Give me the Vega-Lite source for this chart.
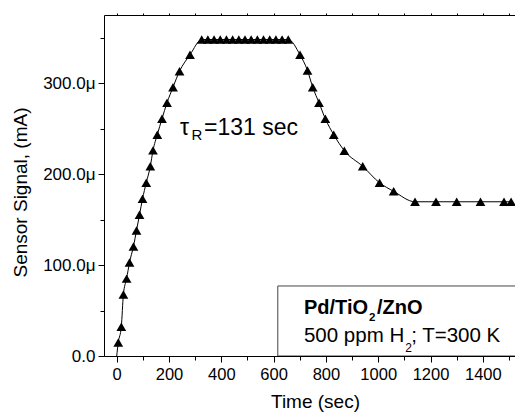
{
  "$schema": "https://vega.github.io/schema/vega-lite/v6.json",
  "width": 411,
  "height": 341,
  "autosize": {"type": "none"},
  "padding": {"left": 104, "top": 15, "right": 0, "bottom": 61},
  "background": "white",
  "config": {
    "view": {"stroke": null},
    "font": "Liberation Sans",
    "axis": {
      "grid": false,
      "domainColor": "black",
      "domainWidth": 1,
      "tickColor": "black",
      "tickWidth": 1,
      "labelColor": "black",
      "titleColor": "black",
      "labelFont": "Liberation Sans",
      "titleFont": "Liberation Sans",
      "labelFontSize": 16.5,
      "titleFontSize": 19,
      "titleFontWeight": "normal"
    }
  },
  "datasets": {
    "curve": [
      {"time": 0, "signal": 0},
      {"time": 6, "signal": 14.8},
      {"time": 17.6, "signal": 32.2},
      {"time": 25.6, "signal": 67.7},
      {"time": 37.9, "signal": 85.1},
      {"time": 49, "signal": 102.9},
      {"time": 64, "signal": 120.4},
      {"time": 75.7, "signal": 138},
      {"time": 87.2, "signal": 155.3},
      {"time": 98.7, "signal": 172.9},
      {"time": 113, "signal": 190.5},
      {"time": 128.5, "signal": 208.6},
      {"time": 138.8, "signal": 226.1},
      {"time": 155.3, "signal": 243.4},
      {"time": 173.2, "signal": 260.9},
      {"time": 192.4, "signal": 278.5},
      {"time": 215.3, "signal": 295.6},
      {"time": 240.2, "signal": 313.2},
      {"time": 280.3, "signal": 331.2},
      {"time": 325, "signal": 348},
      {"time": 348.6, "signal": 348},
      {"time": 372.3, "signal": 348},
      {"time": 395.9, "signal": 348},
      {"time": 419.6, "signal": 348},
      {"time": 443.2, "signal": 348},
      {"time": 466.9, "signal": 348},
      {"time": 490.5, "signal": 348},
      {"time": 514.1, "signal": 348},
      {"time": 537.8, "signal": 348},
      {"time": 561.4, "signal": 348},
      {"time": 585.1, "signal": 348},
      {"time": 608.7, "signal": 348},
      {"time": 632.4, "signal": 348},
      {"time": 656, "signal": 348},
      {"time": 701, "signal": 331.2},
      {"time": 729.6, "signal": 313.9},
      {"time": 749.5, "signal": 295.6},
      {"time": 773.6, "signal": 278.5},
      {"time": 797.7, "signal": 260.9},
      {"time": 829.8, "signal": 243.4},
      {"time": 870.4, "signal": 225.8},
      {"time": 940.7, "signal": 208.6},
      {"time": 1005, "signal": 190.5},
      {"time": 1059, "signal": 181.1},
      {"time": 1140.7, "signal": 169.6},
      {"time": 1221, "signal": 169.6},
      {"time": 1300, "signal": 169.6},
      {"time": 1391, "signal": 169.6},
      {"time": 1481, "signal": 169.6},
      {"time": 1508, "signal": 169.6}
    ]
  },
  "resolve": {"axis": {"x": "independent", "y": "independent"}},
  "layer": [
    {
      "data": {"name": "curve"},
      "mark": {"type": "line", "color": "black", "strokeWidth": 1, "interpolate": "monotone", "clip": true},
      "encoding": {
        "x": {
          "field": "time", "type": "quantitative",
          "scale": {"domain": [-48.6, 1523], "nice": false, "zero": false},
          "axis": {
            "orient": "bottom",
            "title": "Time (sec)",
            "titleX": 211,
            "values": [0, 100, 200, 300, 400, 500, 600, 700, 800, 900, 1000, 1100, 1200, 1300, 1400, 1500],
            "labelExpr": "datum.value % 200 === 0 ? format(datum.value, 'd') : ''",
            "tickSize": {"condition": {"test": "datum.value % 200 === 0", "value": 6}, "value": 4},
            "labelPadding": 4,
            "titlePadding": 10,
            "labelFlush": false,
            "labelOverlap": false
          }
        },
        "y": {
          "field": "signal", "type": "quantitative",
          "scale": {"domain": [0, 375], "nice": false, "zero": false},
          "axis": {
            "orient": "left",
            "title": "Sensor Signal, (mA)",
            "titleY": 177,
            "values": [0, 50, 100, 150, 200, 250, 300, 350],
            "labelExpr": "datum.value === 0 ? '0.0' : (datum.value % 100 === 0 ? format(datum.value, '.1f') + 'μ' : '')",
            "tickSize": {"condition": {"test": "datum.value % 100 === 0", "value": 6}, "value": 4},
            "labelFontSize": 17,
            "labelPadding": 3,
            "titlePadding": 12,
            "labelFlush": false,
            "labelOverlap": false
          }
        }
      }
    },
    {
      "data": {"name": "curve"},
      "transform": [{"filter": "datum.time > 0"}],
      "mark": {"type": "point", "shape": "triangle-up", "filled": true, "color": "black", "opacity": 1, "size": 95, "clip": true},
      "encoding": {
        "x": {
          "field": "time", "type": "quantitative",
          "axis": {
            "orient": "top",
            "title": null,
            "labels": false,
            "values": [0, 100, 200, 300, 400, 500, 600, 700, 800, 900, 1000, 1100, 1200, 1300, 1400, 1500],
            "tickSize": 2
          }
        },
        "y": {"field": "signal", "type": "quantitative", "axis": null}
      }
    },
    {
      "data": {"values": [{"box": "legend"}]},
      "mark": {"type": "rect", "fill": "white", "stroke": "#444444", "strokeWidth": 1, "clip": true},
      "encoding": {
        "x": {"datum": 616, "type": "quantitative", "axis": null},
        "x2": {"datum": 2200},
        "y": {"datum": 0, "type": "quantitative", "axis": null},
        "y2": {"datum": 77}
      }
    },
    {
      "data": {"values": [{"t": "τ"}]},
      "mark": {"type": "text", "align": "left", "baseline": "alphabetic", "fontSize": 23, "color": "black"},
      "encoding": {
        "x": {"datum": 242, "type": "quantitative", "axis": null},
        "y": {"datum": 242.6, "type": "quantitative", "axis": null},
        "text": {"field": "t"}
      }
    },
    {
      "data": {"values": [{"t": "R"}]},
      "mark": {"type": "text", "align": "left", "baseline": "alphabetic", "fontSize": 15, "color": "black"},
      "encoding": {
        "x": {"datum": 286, "type": "quantitative", "axis": null},
        "y": {"datum": 237, "type": "quantitative", "axis": null},
        "text": {"field": "t"}
      }
    },
    {
      "data": {"values": [{"t": "=131 sec"}]},
      "mark": {"type": "text", "align": "left", "baseline": "alphabetic", "fontSize": 23, "color": "black"},
      "encoding": {
        "x": {"datum": 334, "type": "quantitative", "axis": null},
        "y": {"datum": 242.6, "type": "quantitative", "axis": null},
        "text": {"field": "t"}
      }
    },
    {
      "data": {"values": [{"t": "Pd/TiO"}]},
      "mark": {"type": "text", "align": "left", "baseline": "alphabetic", "fontSize": 20, "fontWeight": "bold", "color": "black"},
      "encoding": {
        "x": {"datum": 716, "type": "quantitative", "axis": null},
        "y": {"datum": 45.8, "type": "quantitative", "axis": null},
        "text": {"field": "t"}
      }
    },
    {
      "data": {"values": [{"t": "2"}]},
      "mark": {"type": "text", "align": "left", "baseline": "alphabetic", "fontSize": 11.5, "fontWeight": "bold", "color": "black"},
      "encoding": {
        "x": {"datum": 965, "type": "quantitative", "axis": null},
        "y": {"datum": 38.6, "type": "quantitative", "axis": null},
        "text": {"field": "t"}
      }
    },
    {
      "data": {"values": [{"t": "/ZnO"}]},
      "mark": {"type": "text", "align": "left", "baseline": "alphabetic", "fontSize": 20, "fontWeight": "bold", "color": "black"},
      "encoding": {
        "x": {"datum": 995, "type": "quantitative", "axis": null},
        "y": {"datum": 45.8, "type": "quantitative", "axis": null},
        "text": {"field": "t"}
      }
    },
    {
      "data": {"values": [{"t": "500 ppm H"}]},
      "mark": {"type": "text", "align": "left", "baseline": "alphabetic", "fontSize": 20.5, "color": "black"},
      "encoding": {
        "x": {"datum": 716, "type": "quantitative", "axis": null},
        "y": {"datum": 15.2, "type": "quantitative", "axis": null},
        "text": {"field": "t"}
      }
    },
    {
      "data": {"values": [{"t": "2"}]},
      "mark": {"type": "text", "align": "left", "baseline": "alphabetic", "fontSize": 12, "color": "black"},
      "encoding": {
        "x": {"datum": 1103, "type": "quantitative", "axis": null},
        "y": {"datum": 4.7, "type": "quantitative", "axis": null},
        "text": {"field": "t"}
      }
    },
    {
      "data": {"values": [{"t": "; T=300 K"}]},
      "mark": {"type": "text", "align": "left", "baseline": "alphabetic", "fontSize": 20.5, "color": "black"},
      "encoding": {
        "x": {"datum": 1126, "type": "quantitative", "axis": null},
        "y": {"datum": 15.2, "type": "quantitative", "axis": null},
        "text": {"field": "t"}
      }
    }
  ]
}
